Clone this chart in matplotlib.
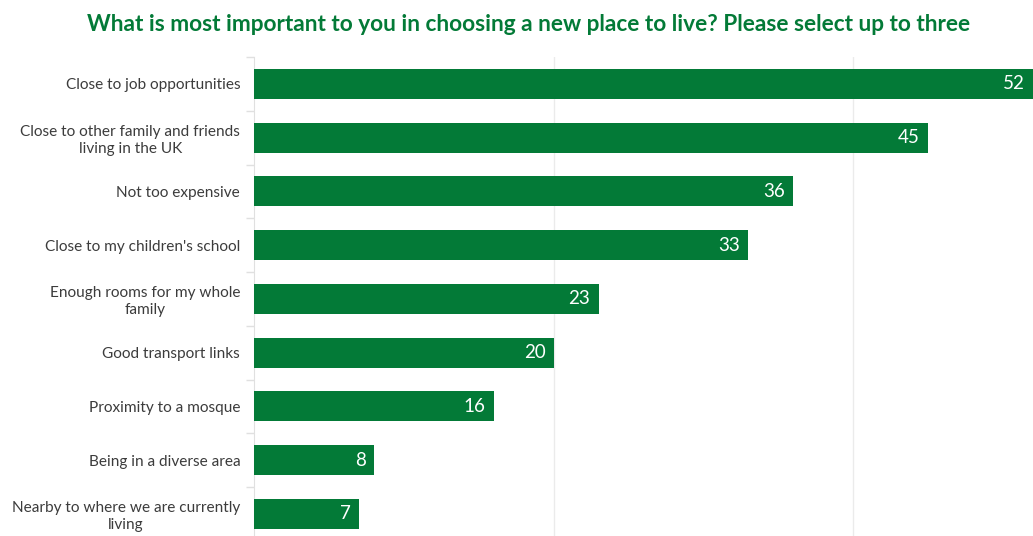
import matplotlib.pyplot as plt
import numpy as np

# survey answers, top to bottom
categories = [
    "Close to job opportunities",
    "Close to other family and friends\nliving in the UK",
    "Not too expensive",
    "Close to my children's school",
    "Enough rooms for my whole\nfamily",
    "Good transport links",
    "Proximity to a mosque",
    "Being in a diverse area",
    "Nearby to where we are currently\nliving",
]
values = [52, 45, 36, 33, 23, 20, 16, 8, 7]

title = "What is most important to you in choosing a new place to live? Please select up to three"

green = "#037a37"
label_col = "#3c3c3c"

plt.rcParams['font.family'] = ['Lato', 'DejaVu Sans']

fig = plt.figure(figsize=(10.33, 5.36), dpi=100)
ax = fig.add_axes([0.2459, 0.0, 0.7541, 0.8937])

y = np.arange(len(categories))
ax.barh(y, values, height=0.56, color=green, zorder=3)

for yi, v in zip(y, values):
    ax.text(v - 0.55, yi, str(v), ha='right', va='center', color='white',
            fontsize=13.5, zorder=4)

ax.set_xlim(0, 52)
ax.set_ylim(8.41, -0.5)

ax.set_yticks(y)
ax.set_yticklabels(categories, fontsize=11.1, color=label_col, linespacing=1.25)
ax.tick_params(axis='y', which='major', length=0, pad=10)
# small ticks between the categories
ax.set_yticks(np.arange(-0.5, len(categories) - 0.5, 1.0), minor=True)
ax.tick_params(axis='y', which='minor', length=6, color='#e0e0e0', width=1)
for t in ax.get_yticklabels():
    t.set_horizontalalignment('right')
    t.set_multialignment('center')

ax.set_xticks([20, 40])
ax.set_xticklabels([])
ax.tick_params(axis='x', length=0)
ax.grid(axis='x', color='#ebebeb', linewidth=1, zorder=0)

for s in ['top', 'right', 'bottom']:
    ax.spines[s].set_visible(False)
ax.spines['left'].set_color('#e0e0e0')

fig.text(0.512, 0.955, title, ha='center', va='center', color=green,
         fontsize=16.3, fontweight='bold')

fig.savefig("out.png", dpi=100)
